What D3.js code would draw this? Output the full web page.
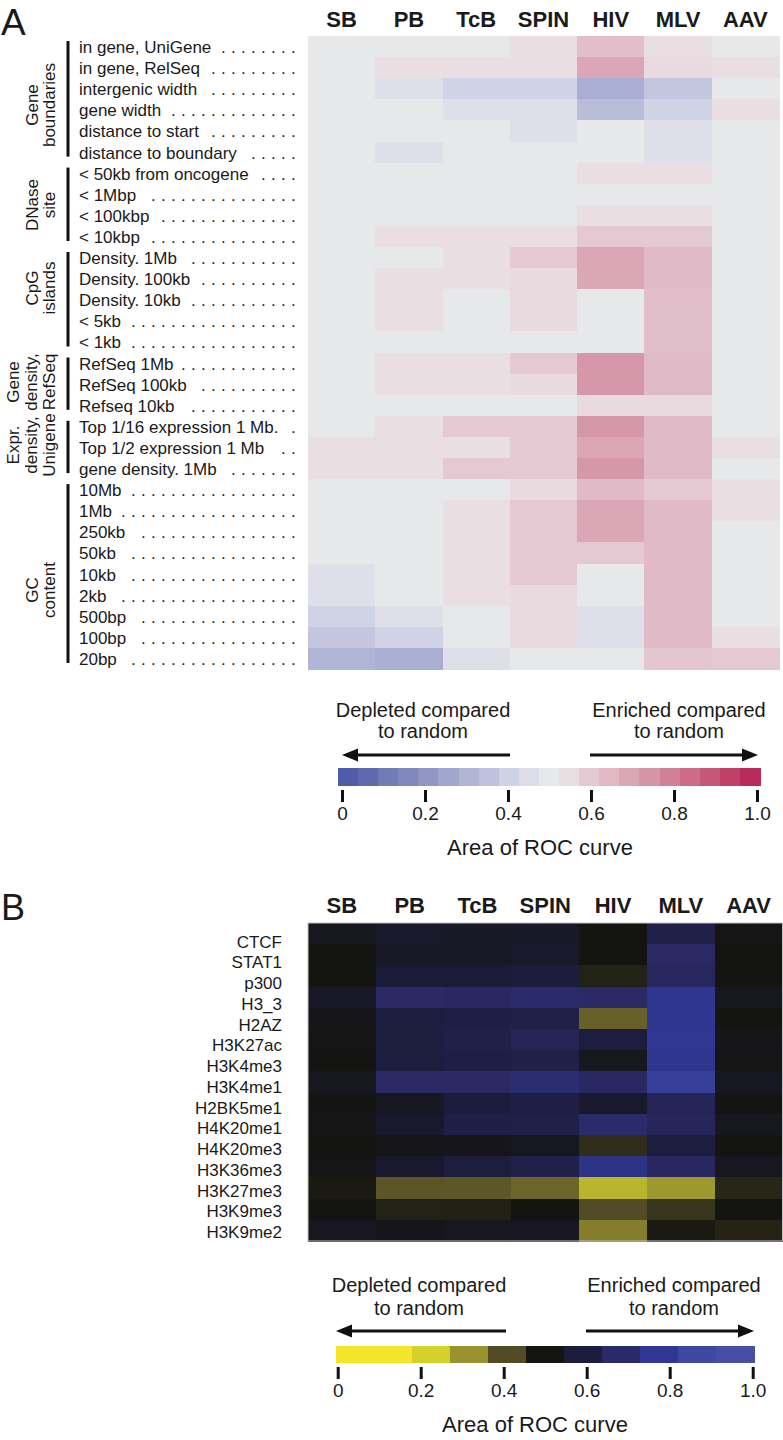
<!DOCTYPE html>
<html><head><meta charset="utf-8">
<script src="https://cdn.jsdelivr.net/npm/d3@7"></script>
<style>
body{margin:0;background:#fff}
svg text{font-family:"Liberation Sans",Arial,Helvetica,sans-serif;fill:#1a1a1a}
</style>
</head><body>
<svg id="chart" width="783" height="1440"></svg>
<script>
// ---------------- DATA ----------------
const columns = ["SB","PB","TcB","SPIN","HIV","MLV","AAV"];

const rowLabelsA = [
  "in gene, UniGene","in gene, RelSeq","intergenic width","gene width","distance to start","distance to boundary",
  "< 50kb from oncogene","< 1Mbp","< 100kbp","< 10kbp",
  "Density. 1Mb","Density. 100kb","Density. 10kb","< 5kb","< 1kb",
  "RefSeq 1Mb","RefSeq 100kb","Refseq 10kb",
  "Top 1/16 expression 1 Mb.","Top 1/2 expression 1 Mb","gene density. 1Mb",
  "10Mb","1Mb","250kb","50kb","10kb","2kb","500bp","100bp","20bp"
];

// Area of ROC curve, panel A (rows x columns SB..AAV)
const valuesA = [
  [0.50,0.50,0.50,0.55,0.63,0.55,0.50],
  [0.50,0.55,0.55,0.55,0.69,0.56,0.55],
  [0.50,0.46,0.41,0.41,0.29,0.37,0.50],
  [0.50,0.50,0.46,0.46,0.34,0.41,0.55],
  [0.50,0.50,0.50,0.46,0.50,0.46,0.50],
  [0.50,0.46,0.50,0.50,0.50,0.46,0.50],
  [0.50,0.50,0.50,0.50,0.55,0.55,0.50],
  [0.50,0.50,0.50,0.50,0.50,0.50,0.50],
  [0.50,0.50,0.50,0.50,0.55,0.55,0.50],
  [0.50,0.55,0.55,0.55,0.60,0.60,0.50],
  [0.50,0.50,0.55,0.60,0.69,0.64,0.50],
  [0.50,0.55,0.55,0.56,0.69,0.64,0.50],
  [0.50,0.55,0.50,0.56,0.50,0.63,0.50],
  [0.50,0.55,0.50,0.56,0.50,0.63,0.50],
  [0.50,0.50,0.50,0.50,0.50,0.63,0.50],
  [0.50,0.55,0.55,0.60,0.73,0.64,0.50],
  [0.50,0.55,0.55,0.56,0.73,0.64,0.50],
  [0.50,0.50,0.50,0.50,0.56,0.56,0.50],
  [0.50,0.55,0.60,0.60,0.73,0.64,0.50],
  [0.55,0.55,0.55,0.60,0.69,0.64,0.55],
  [0.55,0.55,0.60,0.60,0.73,0.64,0.50],
  [0.50,0.50,0.50,0.56,0.64,0.60,0.55],
  [0.50,0.50,0.55,0.60,0.69,0.64,0.55],
  [0.50,0.50,0.55,0.60,0.69,0.64,0.50],
  [0.50,0.50,0.55,0.60,0.60,0.64,0.50],
  [0.46,0.50,0.55,0.60,0.50,0.64,0.50],
  [0.46,0.50,0.55,0.56,0.50,0.64,0.50],
  [0.41,0.46,0.50,0.56,0.46,0.64,0.50],
  [0.37,0.41,0.50,0.56,0.46,0.64,0.55],
  [0.31,0.29,0.46,0.50,0.50,0.61,0.60]
];

const groupNamesA = [
  ["Gene","boundaries"],
  ["DNase","site"],
  ["CpG","islands"],
  ["Gene","density,","RefSeq"],
  ["Expr.","density,","Unigene"],
  ["GC","content"]
];
const groupFirstRowA = [0,6,10,15,18,21];
const groupLastRowA  = [5,9,14,17,20,29];

const rowLabelsB = ["CTCF","STAT1","p300","H3_3","H2AZ","H3K27ac","H3K4me3","H3K4me1",
  "H2BK5me1","H4K20me1","H4K20me3","H3K36me3","H3K27me3","H3K9me3","H3K9me2"];

const valuesB = [
  [0.530,0.555,0.545,0.550,0.500,0.615,0.510],
  [0.500,0.545,0.545,0.555,0.500,0.675,0.505],
  [0.500,0.580,0.580,0.590,0.477,0.660,0.500],
  [0.550,0.680,0.670,0.690,0.680,0.767,0.530],
  [0.520,0.600,0.610,0.615,0.381,0.765,0.500],
  [0.510,0.600,0.620,0.645,0.600,0.770,0.520],
  [0.505,0.595,0.610,0.615,0.530,0.767,0.510],
  [0.530,0.675,0.680,0.700,0.670,0.820,0.535],
  [0.505,0.540,0.590,0.610,0.560,0.645,0.505],
  [0.510,0.560,0.610,0.615,0.685,0.655,0.530],
  [0.500,0.515,0.520,0.535,0.458,0.600,0.500],
  [0.510,0.560,0.595,0.615,0.743,0.665,0.530],
  [0.490,0.396,0.394,0.376,0.269,0.310,0.470],
  [0.500,0.477,0.478,0.500,0.408,0.446,0.500],
  [0.530,0.520,0.530,0.535,0.346,0.490,0.475]
];

const tickValues = [0,0.2,0.4,0.6,0.8,1.0];
const tickLabels = ["0","0.2","0.4","0.6","0.8","1.0"];

// palettes (legend bins)
const paletteA = ["#4f5ca8","#5f6aae","#717bb5","#8088bd","#9097c5","#a0a6cd","#b0b4d5","#bfc2dc","#cfd1e4","#dcdde9",
  "#e7e8ea","#e9dfe3","#e4cbd3","#e0b9c5","#dba7b6","#d694a7","#d08097","#cb6c88","#c55779","#bf4169","#b92b5a"];
const paletteB = ["#f2e52a","#f2e52a","#d4d22a","#99932f","#514b26","#141410","#1c1c3c","#2b2a68","#2e3793","#3d48a0","#4550a5"];

// ---------------- DRAWING ----------------
const svg = d3.select("#chart");

function makeColor(pal){
  return d3.scaleLinear()
    .domain(pal.map((c,i)=>(i+0.5)/pal.length))
    .range(pal).interpolate(d3.interpolateRgb).clamp(true);
}
const colorA = makeColor(paletteA);
const colorB = makeColor(paletteB);

// panel letters
svg.append("text").attr("x",1).attr("y",35).attr("font-size",37).text("A");
svg.append("text").attr("x",1).attr("y",920).attr("font-size",36).text("B");

// ---- Panel A heatmap ----
const xA = d3.scaleBand().domain(columns).range([308,779]);
const yA = d3.scaleBand().domain(d3.range(rowLabelsA.length)).range([36,669]);

const gA = svg.append("g");
valuesA.forEach((row,ri)=>{
  gA.selectAll(null).data(row).join("rect")
    .attr("x",(d,ci)=>xA(columns[ci])).attr("y",yA(ri))
    .attr("width",xA.bandwidth()+0.5).attr("height",yA.bandwidth()+0.5)
    .attr("fill",d=>colorA(d)).attr("shape-rendering","crispEdges");
});

const headA = svg.append("g").attr("transform","translate(0,27)")
  .call(d3.axisTop(xA).tickSize(0).tickPadding(0));
headA.select(".domain").remove();
headA.selectAll("text").attr("font-size",22).attr("font-weight","bold")
  .attr("font-family",'"Liberation Sans",Arial,sans-serif').attr("fill","#1a1a1a");

// row labels with dot leaders
const labA = svg.append("g");
rowLabelsA.forEach((lab,i)=>{
  const yb = yA(i)+yA.bandwidth()/2+6.5;
  const t = labA.append("text").attr("x",79).attr("y",yb).attr("font-size",17).text(lab);
  const end = 79 + t.node().getComputedTextLength();
  const lastDot = 291, pitch = 10;
  const n = Math.floor((lastDot - (end+7))/pitch)+1;
  if(n>0){
    labA.append("text").attr("x",lastDot-(n-1)*pitch).attr("y",yb).attr("font-size",17)
      .attr("letter-spacing",(pitch-4.72)+"px").text(".".repeat(n));
  }
});

// group bars + rotated labels
const labelCenters = [105,205,288,382,445,590];
groupNamesA.forEach((lines,gi)=>{
  const y0 = yA(groupFirstRowA[gi])+5, y1 = yA(groupLastRowA[gi])+yA.bandwidth()-6;
  svg.append("line").attr("x1",68).attr("x2",68).attr("y1",y0).attr("y2",y1)
    .attr("stroke","#111").attr("stroke-width",3);
  const cy = labelCenters[gi];
  const base = lines.length===3 ? [19,37,55] : [38,55];
  lines.forEach((ln,li)=>{
    svg.append("text").attr("transform",`translate(${base[li]},${cy}) rotate(-90)`)
      .attr("text-anchor","middle").attr("font-size",17).attr("fill","#333").text(ln);
  });
});

// ---- Panel B heatmap ----
const xB = d3.scaleBand().domain(columns).range([308,782.5]);
const yB = d3.scaleBand().domain(d3.range(rowLabelsB.length)).range([923,1241]);
const gB = svg.append("g");
valuesB.forEach((row,ri)=>{
  gB.selectAll(null).data(row).join("rect")
    .attr("x",(d,ci)=>xB(columns[ci])).attr("y",yB(ri))
    .attr("width",xB.bandwidth()+0.5).attr("height",yB.bandwidth()+0.5)
    .attr("fill",d=>colorB(d)).attr("shape-rendering","crispEdges");
});
svg.append("rect").attr("x",308).attr("y",923).attr("width",474.5).attr("height",318)
  .attr("fill","none").attr("stroke","#c4c4c4").attr("stroke-width",1);

const headB = svg.append("g").attr("transform","translate(0,913)")
  .call(d3.axisTop(xB).tickSize(0).tickPadding(0));
headB.select(".domain").remove();
headB.selectAll("text").attr("font-size",22).attr("font-weight","bold")
  .attr("font-family",'"Liberation Sans",Arial,sans-serif').attr("fill","#1a1a1a");

const yLabB = d3.scalePoint().domain(d3.range(rowLabelsB.length)).range([947.5,1238]);
svg.append("g").selectAll("text").data(rowLabelsB).join("text")
  .attr("x",282).attr("y",(d,i)=>yLabB(i)).attr("text-anchor","end")
  .attr("font-size",17).attr("fill","#222").text(d=>d);

// ---- Legends ----
function legend(o){
  const g = svg.append("g");
  const bins = d3.scaleBand().domain(d3.range(o.palette.length)).range([o.barX0,o.barX1]);
  g.selectAll("rect").data(o.palette).join("rect")
    .attr("x",(d,i)=>bins(i)).attr("y",o.barY).attr("width",bins.bandwidth()+0.5).attr("height",o.barH)
    .attr("fill",d=>d).attr("shape-rendering","crispEdges");
  const s = d3.scaleLinear().domain([0,1]).range(o.tickRange);
  const ax = g.append("g").attr("transform",`translate(0,${o.barY+o.barH+4})`)
    .call(d3.axisBottom(s).tickValues(tickValues).tickFormat((d,i)=>tickLabels[i]).tickSize(12).tickPadding(4.5));
  ax.select(".domain").remove();
  ax.selectAll(".tick line").attr("stroke","#111").attr("stroke-width",3);
  ax.selectAll(".tick text").attr("font-size",19).attr("fill","#222")
    .attr("font-family",'"Liberation Sans",Arial,sans-serif');
  // phrases
  const ph = [["Depleted compared",o.depX,o.line1Y],["to random",o.depX,o.line2Y],
              ["Enriched compared",o.enrX,o.line1Y],["to random",o.enrX,o.line2Y]];
  g.selectAll(".ph").data(ph).join("text").attr("class","ph")
    .attr("x",d=>d[1]).attr("y",d=>d[2]).attr("text-anchor","middle").attr("font-size",20)
    .attr("fill","#222").text(d=>d[0]);
  // arrows
  const ay = o.arrowY, hl = 16, hh = 6.5;
  g.append("line").attr("x1",o.leftArrow[0]+hl-1).attr("x2",o.leftArrow[1]).attr("y1",ay).attr("y2",ay)
    .attr("stroke","#111").attr("stroke-width",3);
  g.append("path").attr("d",`M${o.leftArrow[0]},${ay}L${o.leftArrow[0]+hl},${ay-hh}L${o.leftArrow[0]+hl},${ay+hh}Z`).attr("fill","#111");
  g.append("line").attr("x1",o.rightArrow[0]).attr("x2",o.rightArrow[1]-hl+1).attr("y1",ay).attr("y2",ay)
    .attr("stroke","#111").attr("stroke-width",3);
  g.append("path").attr("d",`M${o.rightArrow[1]},${ay}L${o.rightArrow[1]-hl},${ay-hh}L${o.rightArrow[1]-hl},${ay+hh}Z`).attr("fill","#111");
  g.append("text").attr("x",o.titleX).attr("y",o.titleY).attr("text-anchor","middle")
    .attr("font-size",22).attr("fill","#222").text("Area of ROC curve");
}

legend({palette:paletteA, barX0:338, barX1:760, barY:768, barH:18, tickRange:[342,757],
  depX:423, enrX:679, line1Y:717, line2Y:738, arrowY:755,
  leftArrow:[342,510], rightArrow:[590,758], titleX:540, titleY:855});
legend({palette:paletteB, barX0:336, barX1:754, barY:1346, barH:17, tickRange:[337.7,752.7],
  depX:419, enrX:674, line1Y:1292, line2Y:1315, arrowY:1331,
  leftArrow:[336,506], rightArrow:[586,754], titleX:535, titleY:1432});
</script>
</body></html>
